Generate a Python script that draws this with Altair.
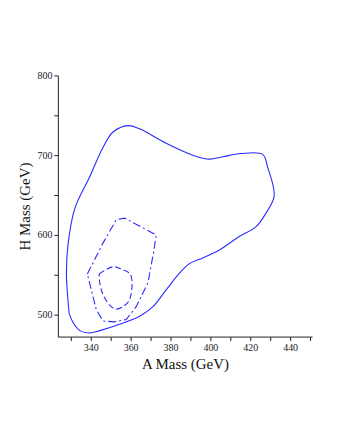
import altair as alt
import pandas as pd

# Outer (solid) contour
outer_a = [329.2, 327.8, 328.7, 332.0, 339.5, 346.2, 351.2, 358.7, 364.5, 377.8, 391.2, 399.5, 406.2, 415.3,
           426.2, 428.7, 432.0, 427.8, 422.8, 414.5, 404.5, 396.2, 389.5, 384.5, 377.8, 371.2, 364.5, 354.5,
           344.5, 339.5, 334.5, 331.2, 329.2]
outer_h = [501, 552, 590, 633, 673, 710, 729, 737, 733, 715, 700, 695, 698, 702,
           701, 685, 649, 627, 610, 598, 581, 571, 564, 552, 531, 510, 498, 488,
           480, 477, 480, 490, 501]

# Middle (dash-dot) contour
mid_a = [338.3, 346.2, 352.8, 357.0, 372.8, 371.7, 368.7, 362.8, 357.8, 352.0, 346.2, 342.8, 340.3, 338.3]
mid_h = [551, 590, 619, 621, 600, 581, 540, 510, 494, 491, 492, 506, 531, 551]

# Inner (dashed) contour
inner_a = [344.2, 351.2, 355.3, 360.0, 359.5, 356.2, 352.5, 349.5, 346.2, 344.5, 344.2]
inner_h = [551, 560, 557, 550, 519, 510, 507, 512, 525, 540, 551]

x_ticks = list(range(330, 451, 10))
y_ticks = list(range(500, 801, 50))

def frame(a, h):
    return pd.DataFrame({"A": a, "H": h, "idx": list(range(len(a)))})

FONT = "Liberation Serif"
COLOR = "#2b2bff"

xs = alt.Scale(domain=[323.5, 451], nice=False, zero=False)
ys = alt.Scale(domain=[472.5, 800], nice=False, zero=False)

xenc = alt.X("A:Q", scale=xs, title="A Mass (GeV)",
             axis=alt.Axis(values=x_ticks,
                           labelExpr="datum.value % 20 == 0 ? datum.label : ''"))
yenc = alt.Y("H:Q", scale=ys, title="H Mass (GeV)",
             axis=alt.Axis(values=y_ticks,
                           labelExpr="datum.value % 100 == 0 ? datum.label : ''"))

def layer(a, h, dash=None, interp="linear"):
    kw = dict(color=COLOR, strokeWidth=1.1, interpolate=interp)
    if dash:
        kw["strokeDash"] = dash
    return alt.Chart(frame(a, h)).mark_line(**kw).encode(x=xenc, y=yenc, order="idx:Q")

chart = alt.layer(
    layer(outer_a, outer_h, interp="catmull-rom"),
    layer(mid_a, mid_h, [8, 3, 2, 3]),
    layer(inner_a, inner_h, [6, 3], interp="catmull-rom"),
).properties(
    width=255, height=262,
    autosize=alt.AutoSizeParams(type="none"),
    padding={"left": 50, "top": 67, "right": 20, "bottom": 60},
).configure_view(stroke=None).configure_axis(
    grid=False,
    domainColor="#222222",
    tickColor="#222222",
    tickSize=4,
    labelFont=FONT,
    labelFontSize=10,
    labelColor="#222222",
    labelPadding=2,
    titleFont=FONT,
    titleFontSize=15,
    titleFontWeight="normal",
    titleColor="#111111",
    titlePadding=4,
)

chart.save("out.html", embed_options={"renderer": "svg", "actions": False})
